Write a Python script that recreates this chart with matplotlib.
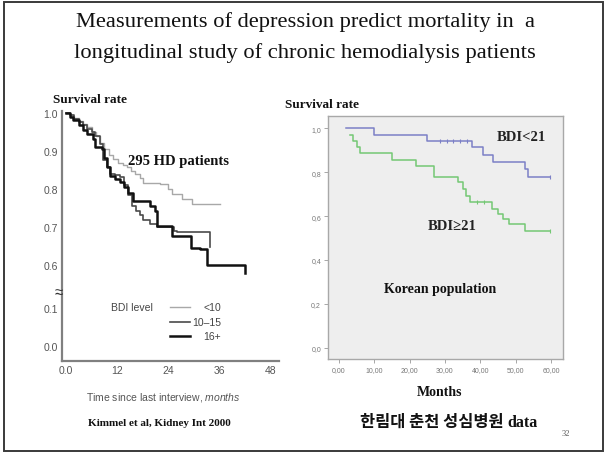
import numpy as np
import matplotlib.pyplot as plt
from matplotlib.lines import Line2D
from matplotlib.patches import Rectangle

plt.rcParams['font.family'] = ['Liberation Sans', 'DejaVu Sans']
plt.rcParams['mathtext.fontset'] = 'custom'
plt.rcParams['mathtext.rm'] = 'Liberation Sans'
plt.rcParams['mathtext.it'] = 'Liberation Sans:italic'
SERIF = ['Liberation Serif', 'DejaVu Serif']

# Left panel: Kimmel et al survival by BDI level (months, survival)
low_t = [0, 1, 2, 3, 4, 5, 6, 7, 8, 9, 10, 11, 12.3, 13.3, 14.3, 15.3, 16.3, 17.4, 18.2,
         22.1, 24.1, 24.9, 27.2, 29.6, 36.2]
low_s = [1.0, 0.993, 0.986, 0.979, 0.972, 0.962, 0.95, 0.938, 0.922, 0.905, 0.889, 0.878,
         0.868, 0.863, 0.858, 0.848, 0.838, 0.828, 0.816, 0.812, 0.800, 0.787, 0.774, 0.760, 0.760]
mid_t = [0, 1, 2, 3, 4, 5, 6, 6.8, 8.0, 8.8, 9.6, 10.4, 11.5, 12.7, 13.6, 14.5, 15.5, 16.4,
         17.3, 18.2, 19.8, 21.3, 25.3, 26.0, 33.9]
mid_s = [1.0, 0.995, 0.985, 0.975, 0.967, 0.958, 0.95, 0.94, 0.919, 0.875, 0.857, 0.84, 0.836,
         0.832, 0.81, 0.785, 0.755, 0.742, 0.73, 0.717, 0.708, 0.70, 0.688, 0.686, 0.647]
high_t = [0, 1, 1.7, 3, 4, 5, 6.4, 6.8, 8.4, 9.0, 9.6, 10.4, 11.5, 12.7, 13.7, 14.7, 15.8,
          18.6, 19.7, 20.9, 21.3, 24.9, 29.4, 31.5, 33.1, 42.1]
high_s = [1.0, 0.99, 0.98, 0.968, 0.956, 0.944, 0.93, 0.91, 0.905, 0.88, 0.858, 0.835, 0.826,
          0.818, 0.805, 0.79, 0.767, 0.767, 0.755, 0.743, 0.703, 0.677, 0.645, 0.642, 0.60, 0.578]
bdi_levels = ['<10', '10\u201315', '16+']
left_xticks = [0, 12, 24, 36, 48]
left_xlabels = ['0.0', '12', '24', '36', '48']
left_yticks = [0.0, 0.1, 0.6, 0.7, 0.8, 0.9, 1.0]

# Right panel: Korean population, BDI<21 vs BDI>=21
blue_t = [2, 10, 24.8, 37.6, 40.9, 43.7, 52.7, 53.6, 59.8]
blue_s = [1.0, 0.97, 0.942, 0.912, 0.876, 0.845, 0.812, 0.779, 0.779]
blue_cens = [28.6, 30.6, 32.3, 34.3, 36.3, 59.8]
green_t = [3.1, 4.1, 5.0, 6.0, 14.9, 21.7, 27.0, 33.8, 35.0, 36.0, 37.0, 43.2, 45.0, 46.5,
           48.0, 52.6, 59.8]
green_s = [0.97, 0.94, 0.915, 0.885, 0.857, 0.829, 0.776, 0.753, 0.723, 0.692, 0.662, 0.632,
           0.609, 0.586, 0.564, 0.533, 0.533]
green_cens = [39.0, 41.0, 59.8]
right_xticks = [0, 10, 20, 30, 40, 50, 60]
right_yticks = [0.0, 0.2, 0.4, 0.6, 0.8, 1.0]

W, H = 607, 456


def fx(px):
    return px / W


def fy(py):
    return 1 - py / H


def axis_pos(v):
    # broken axis: values below 0.5 are pulled up next to the 0.6 tick
    return v if v >= 0.5 else v + 0.387


def step_at(t, s, x):
    i = np.searchsorted(t, x, side='right') - 1
    return np.asarray(s)[i]


fig = plt.figure(figsize=(W / 100, H / 100), dpi=100)
fig.add_artist(Rectangle((fx(4), fy(452)), fx(603) - fx(4), fy(3) - fy(452),
                         transform=fig.transFigure, fill=False, edgecolor='#3a3a3a', lw=1.4))

fig.text(fx(305), fy(22), 'Measurements of depression predict mortality in  a',
         ha='center', va='center', family=SERIF, fontsize=16.2, color='#111')
fig.text(fx(305), fy(53), 'longitudinal study of chronic hemodialysis patients',
         ha='center', va='center', family=SERIF, fontsize=16.2, color='#111')

# ---- left panel
axL = fig.add_axes([fx(62), fy(362), fx(279) - fx(62), fy(112) - fy(362)])
styles = [('#a8a8a8', 1.0), ('#4a4a4a', 1.2), ('#111111', 1.8)]
for (t, s), (c, lw) in zip([(low_t, low_s), (mid_t, mid_s), (high_t, high_s)], styles):
    axL.plot(t, s, drawstyle='steps-post', color=c, lw=lw)
axL.set_xlim(-0.94, 50.1)
axL.set_ylim(0.347, 1.005)
axL.set_xticks(left_xticks)
axL.set_xticklabels(left_xlabels)
axL.set_yticks([axis_pos(v) for v in left_yticks])
axL.set_yticklabels([f'{v:.1f}' for v in left_yticks])
axL.tick_params(length=0, labelsize=7.5, labelcolor='#555', pad=3)
for side in ['top', 'right']:
    axL.spines[side].set_visible(False)
for side in ['left', 'bottom']:
    axL.spines[side].set_color('#808080')
    axL.spines[side].set_linewidth(1.6)
axL.set_facecolor('none')
fig.text(fx(59), fy(293), '\u2248', ha='center', va='center', fontsize=11, color='#333')

fig.text(fx(53), fy(100), 'Survival rate', ha='left', va='center', family=SERIF,
         fontsize=9.5, fontweight='bold', color='#111')
fig.text(fx(128), fy(162), '295 HD patients', ha='left', va='center', family=SERIF,
         fontsize=10.5, fontweight='bold', color='#111')

# legend drawn by hand: title on the left, labels right-aligned
fig.text(fx(153), fy(308), 'BDI level', ha='right', va='center', fontsize=7.5, color='#444')
for i, ((c, lw), lab) in enumerate(zip(styles, bdi_levels)):
    yy = fy(308 + 14.5 * i)
    fig.add_artist(Line2D([fx(170), fx(190)], [yy, yy], color=c, lw=lw,
                          transform=fig.transFigure))
    fig.text(fx(221), yy, lab, ha='right', va='center', fontsize=7.5, color='#444')

fig.text(fx(163), fy(398), r'Time since last interview, $\it{months}$', ha='center',
         va='center', fontsize=7.5, color='#555')
fig.text(fx(159), fy(424), 'Kimmel et al, Kidney Int 2000', ha='center', va='center',
         family=SERIF, fontsize=8, fontweight='bold', color='#111')

# ---- right panel
axR = fig.add_axes([fx(328), fy(360), fx(563) - fx(328), fy(117) - fy(360)])
axR.set_facecolor('#eeeeee')
axR.plot(blue_t, blue_s, drawstyle='steps-post', color='#7c80c6', lw=1.1)
axR.plot(green_t, green_s, drawstyle='steps-post', color='#74c874', lw=1.1)
axR.plot(blue_cens, step_at(blue_t, blue_s, blue_cens), ls='none', marker='|',
         ms=2.5, mew=0.8, color='#7c80c6')
axR.plot(green_cens, step_at(green_t, green_s, green_cens), ls='none', marker='|',
         ms=2.5, mew=0.8, color='#74c874')
axR.set_xlim(-3.1, 63.4)
axR.set_ylim(-0.05, 1.055)
axR.set_xticks(right_xticks)
axR.set_xticklabels([f'{v:.2f}'.replace('.', ',') for v in right_xticks])
axR.set_yticks(right_yticks)
axR.set_yticklabels([f'{v:.1f}'.replace('.', ',') for v in right_yticks])
axR.tick_params(length=3, width=0.6, color='#999', labelsize=5, labelcolor='#777', pad=2)
for sp in axR.spines.values():
    sp.set_color('#a8a8a8')
    sp.set_linewidth(1.0)

fig.text(fx(285), fy(105), 'Survival rate', ha='left', va='center', family=SERIF,
         fontsize=9.5, fontweight='bold', color='#111')
fig.text(fx(521), fy(138), 'BDI<21', ha='center', va='center', family=SERIF,
         fontsize=10.5, fontweight='bold', color='#222')
fig.text(fx(452), fy(227), 'BDI\u226521', ha='center', va='center', family=SERIF,
         fontsize=10.5, fontweight='bold', color='#222')
fig.text(fx(440), fy(289), 'Korean population', ha='center', va='center', family=SERIF,
         fontsize=10, fontweight='bold', color='#111')
fig.text(fx(440), fy(393), 'Months', ha='center', va='center', family=SERIF,
         fontsize=10, fontweight='bold', color='#111')
fig.text(fx(504), fy(422), '\ud55c\ub9bc\ub300 \ucd98\ucc9c \uc131\uc2ec\ubcd1\uc6d0',
         ha='right', va='center', family=['Noto Sans CJK KR', 'DejaVu Sans'],
         fontsize=11.8, fontweight='bold', color='#111')
fig.text(fx(507), fy(423), 'data', ha='left', va='center', family=SERIF,
         fontsize=11.5, fontweight='bold', color='#111')
fig.text(fx(566), fy(434), '32', ha='center', va='center', family=SERIF,
         fontsize=6, color='#555')

fig.savefig('out.png', dpi=100)
